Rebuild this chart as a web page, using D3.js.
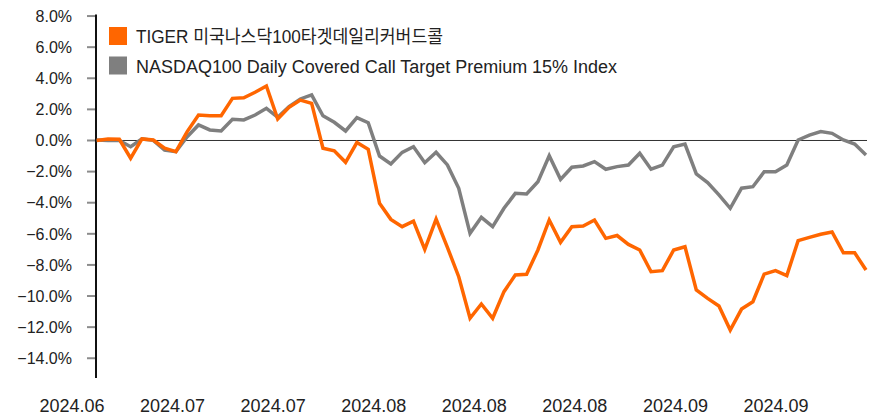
<!DOCTYPE html>
<html>
<head>
<meta charset="utf-8">
<script src="https://cdn.jsdelivr.net/npm/d3@7"></script>
<style>
  body { margin: 0; background: #fff; }
  svg text { font-family: "Liberation Sans", Arial, "Noto Sans CJK KR", sans-serif; fill: #222; }
</style>
</head>
<body>
<div id="chart"></div>
<script>
const W = 879, H = 418;

// series, cumulative return in %
const tigerValues = [
  0.0, 0.1, 0.08, -1.14, 0.1, 0.03, -0.5, -0.72, 0.57, 1.64,
  1.59, 1.59, 2.71, 2.75, 3.1, 3.5, 1.38, 2.13, 2.6, 2.39,
  -0.5, -0.66, -1.4, -0.13, -0.57, -4.04, -5.07, -5.54, -5.18, -7.0,
  -5.05, -6.87, -8.76, -11.43, -10.51, -11.43, -9.72, -8.65, -8.6, -7.04,
  -5.11, -6.55, -5.54, -5.5, -5.11, -6.29, -6.11, -6.68, -7.04, -8.44,
  -8.37, -7.04, -6.83, -9.61, -10.15, -10.64, -12.19, -10.84, -10.37, -8.59,
  -8.37, -8.69, -6.44, -6.23, -6.03, -5.88, -7.22, -7.22, -8.33
];
const indexValues = [
  0.03, 0.0, 0.0, -0.4, 0.1, 0.01, -0.61, -0.72, 0.24, 1.0,
  0.68, 0.61, 1.36, 1.32, 1.64, 2.07, 1.49, 2.17, 2.67, 2.93,
  1.59, 1.17, 0.61, 1.47, 1.14, -1.0, -1.51, -0.76, -0.4, -1.43,
  -0.76, -1.57, -3.07, -5.97, -4.94, -5.54, -4.36, -3.4, -3.44, -2.65,
  -0.98, -2.5, -1.72, -1.64, -1.36, -1.85, -1.68, -1.58, -0.82, -1.85,
  -1.58, -0.4, -0.23, -2.15, -2.71, -3.5, -4.36, -3.07, -2.97, -2.01,
  -2.01, -1.58, 0.03, 0.35, 0.57, 0.46, 0.03, -0.23, -0.93
];
const seriesNames = ["TIGER 미국나스닥100타겟데일리커버드콜", "NASDAQ100 Daily Covered Call Target Premium 15% Index"];
const seriesColors = ["#ff6600", "#7f7f7f"];
const xLabels = ["2024.06", "2024.07", "2024.07", "2024.08", "2024.08", "2024.08", "2024.09", "2024.09"];
const yTicks = [8, 6, 4, 2, 0, -2, -4, -6, -8, -10, -12, -14];

const svg = d3.select("#chart").append("svg")
  .attr("width", W).attr("height", H);

const x = d3.scalePoint()
  .domain(d3.range(tigerValues.length))
  .range([96.7, 866]);

const y = d3.scaleLinear()
  .domain([-15.27, 8.1])
  .range([378, 14.5]);

const xLab = d3.scalePoint()
  .domain(d3.range(xLabels.length))
  .range([72, 776]);

// y axis ticks + labels
const fmt = v => (v < 0 ? "\u2212" : "") + Math.abs(v).toFixed(1) + "%";
const yAxis = svg.append("g");
yAxis.selectAll("line.tick")
  .data(yTicks)
  .enter().append("line")
    .attr("class", "tick")
    .attr("x1", 87).attr("x2", 96)
    .attr("y1", d => y(d)).attr("y2", d => y(d))
    .attr("stroke", "#8c8c8c").attr("stroke-width", 2);
yAxis.selectAll("text")
  .data(yTicks)
  .enter().append("text")
    .attr("x", 72).attr("y", d => y(d))
    .attr("dy", "0.36em")
    .attr("text-anchor", "end")
    .style("font-size", "16px")
    .text(fmt);

// zero line
svg.append("line")
  .attr("x1", 96).attr("x2", 867)
  .attr("y1", y(0)).attr("y2", y(0))
  .attr("stroke", "#333").attr("stroke-width", 1);

// axis line
svg.append("line")
  .attr("x1", 96).attr("x2", 96)
  .attr("y1", y.range()[1]).attr("y2", y.range()[0])
  .attr("stroke", "#111").attr("stroke-width", 2);

// x labels
svg.append("g").selectAll("text")
  .data(xLabels)
  .enter().append("text")
    .attr("x", (d, i) => xLab(i))
    .attr("y", 412)
    .attr("text-anchor", "middle")
    .style("font-size", "18px")
    .text(d => d);

// lines
const line = d3.line()
  .x((d, i) => x(i))
  .y(d => y(d));

[indexValues, tigerValues].forEach((vals, k) => {
  svg.append("path")
    .datum(vals)
    .attr("d", line)
    .attr("fill", "none")
    .attr("stroke", k === 0 ? seriesColors[1] : seriesColors[0])
    .attr("stroke-width", 3.5)
    .attr("stroke-linejoin", "miter");
});

// legend
const legendW = [307, 481];
const legend = svg.append("g");
seriesNames.forEach((name, i) => {
  const g = legend.append("g").attr("transform", `translate(109,${27 + i * 29.5})`);
  g.append("rect")
    .attr("width", 18).attr("height", 18)
    .attr("fill", seriesColors[i]);
  g.append("text")
    .attr("x", 27).attr("y", 16)
    .style("font-size", "18px")
    .attr("textLength", legendW[i])
    .attr("lengthAdjust", "spacingAndGlyphs")
    .text(name);
});
</script>
</body>
</html>
